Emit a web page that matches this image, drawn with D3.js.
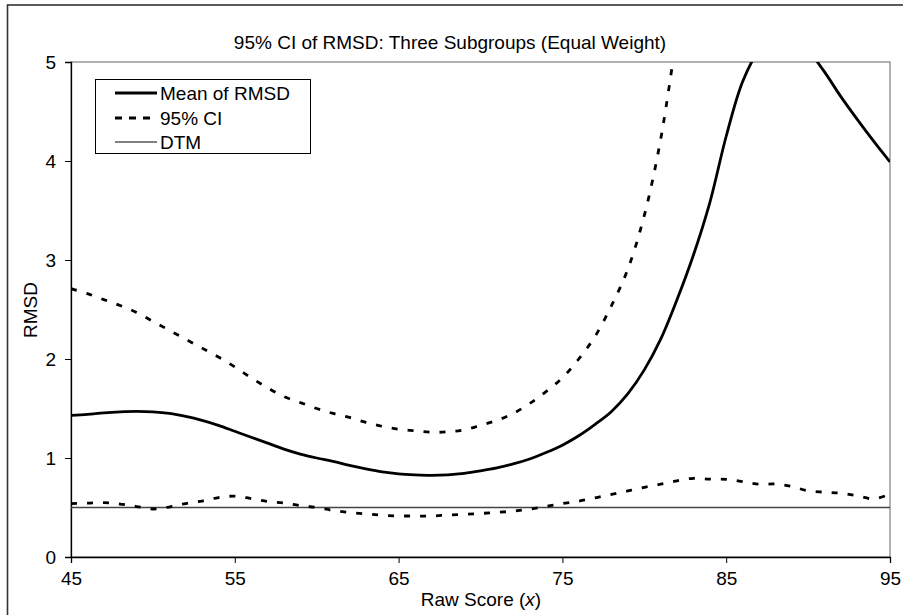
<!DOCTYPE html>
<html>
<head>
<meta charset="utf-8">
<script src="https://cdn.jsdelivr.net/npm/d3@7/dist/d3.min.js"></script>
<style>
html,body{margin:0;padding:0;background:#fff;}
svg{display:block;font-family:"Liberation Sans",Arial,sans-serif;}
</style>
</head>
<body>
<svg id="chart" width="903" height="615"></svg>
<script>
const chartTitle = "95% CI of RMSD: Three Subgroups (Equal Weight)";
const xTicks = [45, 55, 65, 75, 85, 95];
const yTicks = [0, 1, 2, 3, 4, 5];
const seriesNames = ["Mean of RMSD", "95% CI", "DTM"];

const scoreX = [45,46,47,48,49,50,51,52,53,54,55,56,57,58,59,60,61,62,63,64,65,66,67,68,69,70,
  71,72,73,74,75,76,77,78,79,80,81,82,83,84,85,86,87,88,89,90,91,92,93,94,95];
const meanRMSD = [1.43,1.44,1.455,1.465,1.47,1.465,1.45,1.42,1.38,1.33,1.27,1.21,1.15,1.09,1.04,1.00,
  0.965,0.925,0.89,0.86,0.84,0.83,0.825,0.83,0.845,0.87,0.90,0.94,0.99,1.055,1.13,1.225,1.34,1.47,
  1.65,1.89,2.2,2.6,3.05,3.58,4.25,4.8,5.12,5.28,5.28,5.12,4.9,4.65,4.42,4.2,3.99];
const upperX = [45,46,47,48,49,50,51,52,53,54,55,56,57,58,59,60,61,62,63,64,65,66,67,68,69,70,
  71,72,73,74,75,76,77,78,79,80,81,82];
const upperCI = [2.71,2.66,2.6,2.54,2.47,2.38,2.29,2.2,2.11,2.02,1.92,1.81,1.71,1.62,1.56,1.5,1.45,
  1.41,1.36,1.32,1.29,1.275,1.26,1.265,1.285,1.33,1.38,1.45,1.55,1.67,1.81,2.0,2.23,2.54,2.91,3.45,4.22,5.3];
const lowerCI = [0.54,0.545,0.55,0.535,0.51,0.485,0.505,0.54,0.565,0.6,0.615,0.59,0.56,0.545,0.52,0.5,
  0.47,0.45,0.435,0.422,0.415,0.414,0.414,0.424,0.431,0.44,0.45,0.464,0.484,0.512,0.54,0.565,0.598,
  0.632,0.668,0.703,0.736,0.77,0.795,0.787,0.785,0.762,0.735,0.737,0.712,0.668,0.655,0.644,0.618,0.588,0.636];
const dtmValue = 0.5;

const svg = d3.select("#chart");
const pL = 71, pR = 890, pT = 62, pB = 557;
const x = d3.scaleLinear().domain([45, 95]).range([pL, pR]);
const y = d3.scaleLinear().domain([0, 5]).range([pB, pT]);

// outer border
svg.append("rect").attr("x", 7.5).attr("y", 5).attr("width", 1000).attr("height", 1000)
  .attr("fill", "none").attr("stroke", "#333").attr("stroke-width", 1.6);

// plot frame
svg.append("rect").attr("x", pL).attr("y", pT).attr("width", pR - pL).attr("height", pB - pT)
  .attr("fill", "none").attr("stroke", "#666").attr("stroke-width", 1);

svg.append("defs").append("clipPath").attr("id", "clip")
  .append("rect").attr("x", pL).attr("y", pT).attr("width", pR - pL).attr("height", pB - pT);

const fontSize = 19;

// axes
const yAxis = svg.append("g").attr("transform", `translate(${pL},0)`)
  .call(d3.axisLeft(y).tickValues(yTicks).tickSize(6).tickPadding(9).tickFormat(d3.format("d")));
const xAxis = svg.append("g").attr("transform", `translate(0,${pB})`)
  .call(d3.axisBottom(x).tickValues(xTicks).tickSize(6).tickPadding(9).tickFormat(d3.format("d")));
[xAxis, yAxis].forEach(g => {
  g.select(".domain").attr("stroke", "#000").attr("stroke-width", 1.3);
  g.selectAll(".tick line").attr("stroke", "#000").attr("stroke-width", 1);
  g.selectAll(".tick text").attr("font-size", fontSize).attr("fill", "#000")
    .attr("font-family", '"Liberation Sans",Arial,sans-serif');
});

const plot = svg.append("g").attr("clip-path", "url(#clip)");

// DTM
plot.append("line").attr("x1", x(45)).attr("x2", x(95)).attr("y1", y(dtmValue)).attr("y2", y(dtmValue))
  .attr("stroke", "#444").attr("stroke-width", 1.6);

const line = d3.line().x(d => x(d[0])).y(d => y(d[1])).curve(d3.curveCatmullRom.alpha(0.5));

plot.append("path").attr("d", line(upperX.map((v, i) => [v, upperCI[i]])))
  .attr("fill", "none").attr("stroke", "#000").attr("stroke-width", 2.8).attr("stroke-dasharray", "6,10");
plot.append("path").attr("d", line(scoreX.map((v, i) => [v, lowerCI[i]])))
  .attr("fill", "none").attr("stroke", "#000").attr("stroke-width", 2.8).attr("stroke-dasharray", "6,10");
plot.append("path").attr("d", line(scoreX.map((v, i) => [v, meanRMSD[i]])))
  .attr("fill", "none").attr("stroke", "#000").attr("stroke-width", 2.8);

// titles
svg.append("text").attr("x", 450).attr("y", 49).attr("text-anchor", "middle")
  .attr("font-size", fontSize).text(chartTitle);
const xt = svg.append("text").attr("x", 481).attr("y", 606).attr("text-anchor", "middle")
  .attr("font-size", fontSize);
xt.append("tspan").text("Raw Score (");
xt.append("tspan").attr("font-style", "italic").text("x");
xt.append("tspan").text(")");
svg.append("text").attr("transform", "translate(37,310) rotate(-90)").attr("text-anchor", "middle")
  .attr("font-size", fontSize).text("RMSD");

// legend
const lg = svg.append("g");
lg.append("rect").attr("x", 95.5).attr("y", 79.5).attr("width", 215).attr("height", 74)
  .attr("fill", "#fff").attr("stroke", "#000").attr("stroke-width", 1);
const rows = [
  {name: seriesNames[0], y: 93, w: 3, dash: null},
  {name: seriesNames[1], y: 118, w: 3, dash: "7,7"},
  {name: seriesNames[2], y: 142, w: 1, dash: null}
];
rows.forEach(r => {
  const l = lg.append("line").attr("x1", 115).attr("x2", 157).attr("y1", r.y).attr("y2", r.y)
    .attr("stroke", "#000").attr("stroke-width", r.w);
  if (r.dash) l.attr("stroke-dasharray", r.dash);
  lg.append("text").attr("x", 160).attr("y", r.y).attr("dy", "0.35em").attr("font-size", fontSize).text(r.name);
});
</script>
</body>
</html>
